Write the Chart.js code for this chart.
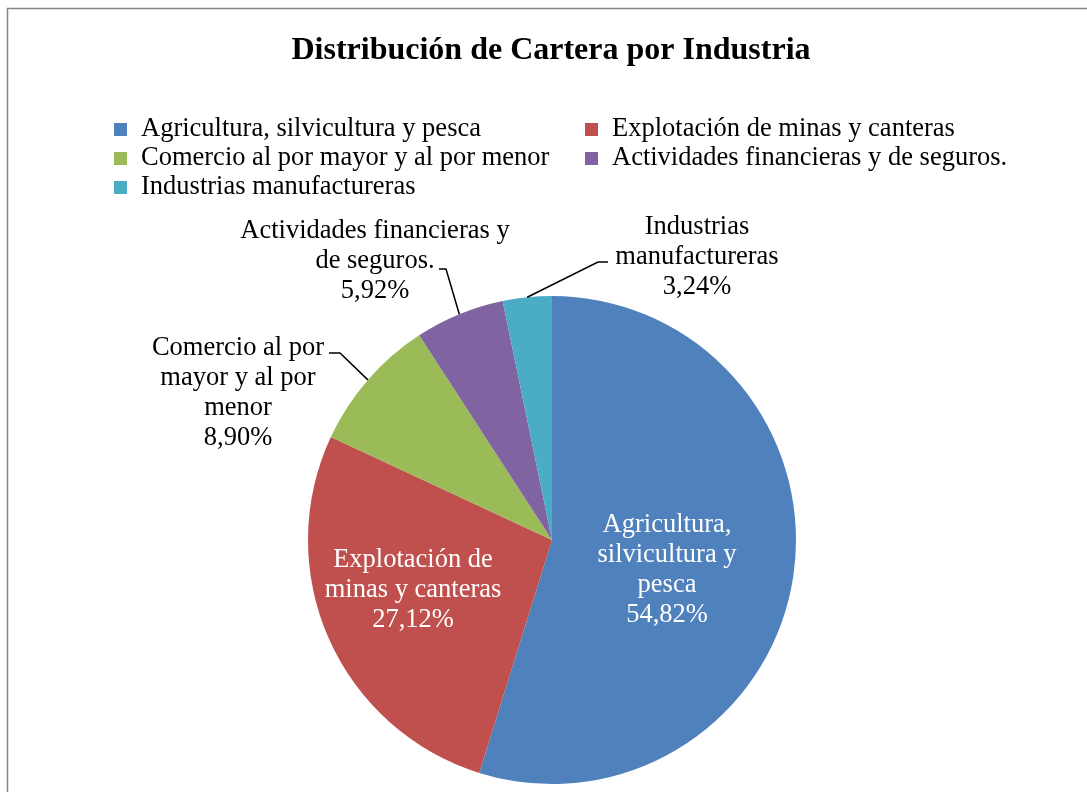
<!DOCTYPE html>
<html>
<head>
<meta charset="utf-8">
<script src="https://cdn.jsdelivr.net/npm/chart.js@4.4.1/dist/chart.umd.min.js"></script>
<style>
  html, body { margin: 0; padding: 0; background: #fff; }
  #wrap { width: 1087px; height: 792px; position: relative; }
</style>
</head>
<body>
<div id="wrap"><canvas id="cartera"></canvas></div>
<script>
  // datos
  var categorias = ['Agricultura, silvicultura y pesca', 'Explotación de minas y canteras',
    'Comercio al por mayor y al por menor', 'Actividades financieras y de seguros.',
    'Industrias manufactureras'];
  var porcentajes = [54.82, 27.12, 8.90, 5.92, 3.24];
  var colores = ['#4F81BD', '#C0504D', '#9BBB59', '#8064A2', '#4BACC6'];
  var titulo = 'Distribución de Cartera por Industria';

  // etiquetas partidas en lineas, como en el original
  var lineasEtiqueta = [
    ['Agricultura,', 'silvicultura y', 'pesca'],
    ['Explotación de', 'minas y canteras'],
    ['Comercio al por', 'mayor y al por', 'menor'],
    ['Actividades financieras y', 'de seguros.'],
    ['Industrias', 'manufactureras']
  ];

  var serif = '"Liberation Serif", "Times New Roman", serif';

  // posicion de cada etiqueta respecto al centro de la torta
  // inside: dentro del sector; si no, con linea guia (codo + tramo horizontal)
  var etiquetaCfg = [
    { inside: true, dx: 115, dy: 30 },
    { inside: true, dx: -139, dy: 50 },
    { inside: false, tx: 238, ty: 393, ex: 340, ey: 353, hx: 329 },
    { inside: false, tx: 375, ty: 261, ex: 446, ey: 269, hx: 439 },
    { inside: false, tx: 697, ty: 257, ex: 598, ey: 262, hx: 608 }
  ];

  function fmtPct(v) {
    return v.toFixed(2).replace('.', ',') + '%';
  }

  var marcoYTitulo = {
    id: 'marcoYTitulo',
    beforeDraw: function (chart) {
      var ctx = chart.ctx;
      ctx.save();
      ctx.fillStyle = '#fff';
      ctx.fillRect(0, 0, chart.width, chart.height);
      ctx.strokeStyle = '#868686';
      ctx.lineWidth = 1.5;
      ctx.strokeRect(7.5, 8.5, 1200, 1000);

      ctx.fillStyle = '#000';
      ctx.font = 'bold 32px ' + serif;
      ctx.textAlign = 'center';
      ctx.textBaseline = 'middle';
      ctx.fillText(titulo, 551, 51);

      // leyenda en dos columnas
      ctx.font = '26.5px ' + serif;
      ctx.textAlign = 'left';
      var colX = [114, 585];
      for (var i = 0; i < categorias.length; i++) {
        var col = i % 2;
        var fila = Math.floor(i / 2);
        var y = 129 + fila * 29;
        ctx.fillStyle = colores[i];
        ctx.fillRect(colX[col], y - 6, 13, 13);
        ctx.fillStyle = '#000';
        ctx.fillText(categorias[i], colX[col] + 27, y);
      }
      ctx.restore();
    }
  };

  var etiquetas = {
    id: 'etiquetas',
    afterDatasetsDraw: function (chart) {
      var ctx = chart.ctx;
      var meta = chart.getDatasetMeta(0);
      ctx.save();
      ctx.font = '26.5px ' + serif;
      ctx.textAlign = 'center';
      ctx.textBaseline = 'middle';
      var lh = 30;
      meta.data.forEach(function (arc, i) {
        var p = arc.getProps(['x', 'y', 'startAngle', 'endAngle', 'outerRadius'], true);
        var cfg = etiquetaCfg[i];
        var lineas = lineasEtiqueta[i].concat([fmtPct(porcentajes[i])]);
        var cx, cy;
        if (cfg.inside) {
          cx = p.x + cfg.dx;
          cy = p.y + cfg.dy;
          ctx.fillStyle = '#fff';
        } else {
          var mid = (p.startAngle + p.endAngle) / 2;
          var bx = p.x + Math.cos(mid) * p.outerRadius;
          var by = p.y + Math.sin(mid) * p.outerRadius;
          ctx.strokeStyle = '#000';
          ctx.lineWidth = 1.5;
          ctx.beginPath();
          ctx.moveTo(bx, by);
          ctx.lineTo(cfg.ex, cfg.ey);
          ctx.lineTo(cfg.hx, cfg.ey);
          ctx.stroke();
          cx = cfg.tx;
          cy = cfg.ty;
          ctx.fillStyle = '#000';
        }
        var y0 = cy - (lineas.length - 1) * lh / 2;
        lineas.forEach(function (t, k) {
          ctx.fillText(t, cx, y0 + k * lh);
        });
      });
      ctx.restore();
    }
  };

  new Chart(document.getElementById('cartera'), {
    type: 'pie',
    data: {
      labels: categorias,
      datasets: [{
        data: porcentajes,
        backgroundColor: colores,
        borderWidth: 0
      }]
    },
    options: {
      responsive: true,
      maintainAspectRatio: false,
      animation: false,
      layout: { padding: { top: 296, bottom: 8, left: 117, right: 100 } },
      plugins: {
        legend: { display: false },
        title: { display: false },
        tooltip: { enabled: false }
      }
    },
    plugins: [marcoYTitulo, etiquetas]
  });
</script>
</body>
</html>
